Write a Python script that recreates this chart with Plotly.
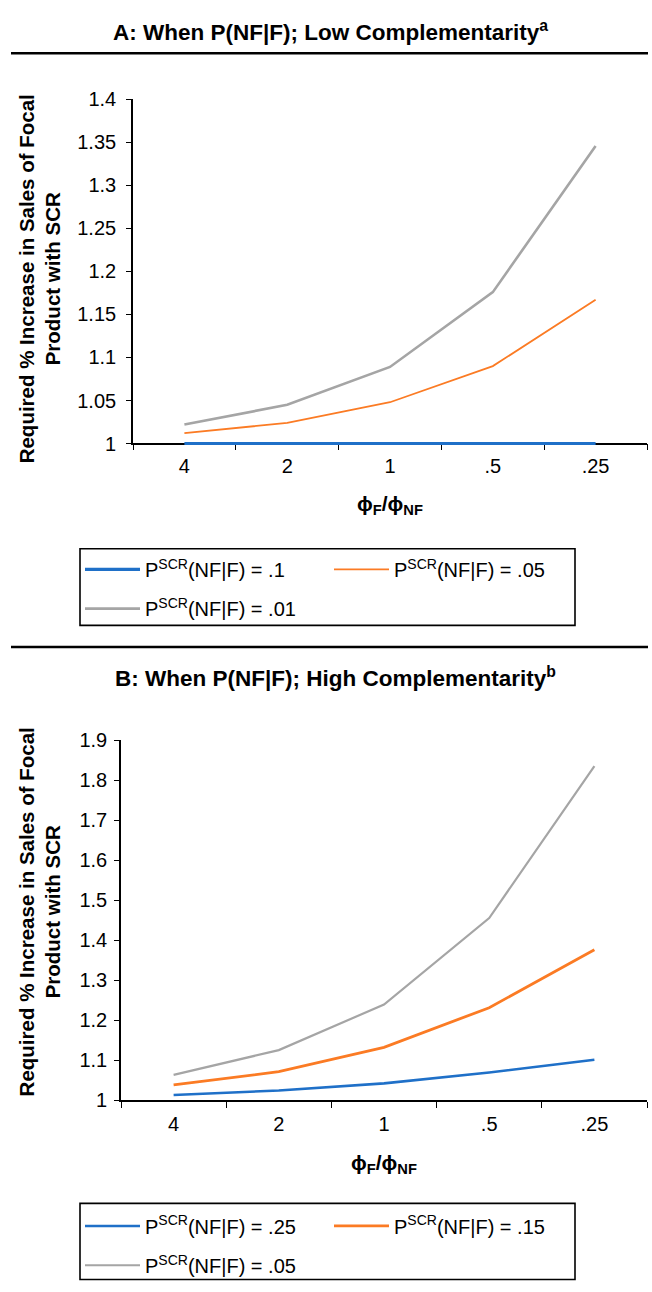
import plotly.graph_objects as go

# ---------------- data ----------------
categories = ["4", "2", "1", ".5", ".25"]

a_names = ["P<sup>SCR</sup>(NF|F) = .1", "P<sup>SCR</sup>(NF|F) = .05", "P<sup>SCR</sup>(NF|F) = .01"]
a_p10 = [1.0, 1.0, 1.0, 1.0, 1.0]
a_p05 = [1.012, 1.024, 1.048, 1.090, 1.167]
a_p01 = [1.022, 1.045, 1.089, 1.176, 1.346]

b_names = ["P<sup>SCR</sup>(NF|F) = .25", "P<sup>SCR</sup>(NF|F) = .15", "P<sup>SCR</sup>(NF|F) = .05"]
b_p25 = [1.013, 1.024, 1.042, 1.069, 1.101]
b_p15 = [1.038, 1.071, 1.132, 1.231, 1.376]
b_p05 = [1.063, 1.125, 1.239, 1.455, 1.835]

a_yticks = [1, 1.05, 1.1, 1.15, 1.2, 1.25, 1.3, 1.35, 1.4]
a_yticktext = ["1", "1.05", "1.1", "1.15", "1.2", "1.25", "1.3", "1.35", "1.4"]
b_yticks = [1, 1.1, 1.2, 1.3, 1.4, 1.5, 1.6, 1.7, 1.8, 1.9]
b_yticktext = ["1", "1.1", "1.2", "1.3", "1.4", "1.5", "1.6", "1.7", "1.8", "1.9"]

# ---------------- style ----------------
W, H = 652, 1292
FONT = "Liberation Sans, Arial, Helvetica, sans-serif"
BLUE = "#1F70C8"
ORANGE = "#FB7B24"
GRAY = "#A5A5A5"
TICK = 20
LEG = 20

def px(x):
    return x / W

def py(y):
    return 1 - y / H

fig = go.Figure()

# Panel A traces (row 1 of legend: first two, row 2: third)
for name, vals, col, wid, lg in [(a_names[0], a_p10, BLUE, 3.2, "legend"),
                                 (a_names[1], a_p05, ORANGE, 1.8, "legend"),
                                 (a_names[2], a_p01, GRAY, 2.6, "legend3")]:
    fig.add_trace(go.Scatter(x=categories, y=vals, mode="lines", name=name,
                             line=dict(color=col, width=wid), cliponaxis=False,
                             xaxis="x", yaxis="y", legend=lg))

# Panel B traces
for name, vals, col, wid, lg in [(b_names[0], b_p25, BLUE, 2.6, "legend2"),
                                 (b_names[1], b_p15, ORANGE, 2.8, "legend2"),
                                 (b_names[2], b_p05, GRAY, 2.2, "legend4")]:
    fig.add_trace(go.Scatter(x=categories, y=vals, mode="lines", name=name,
                             line=dict(color=col, width=wid), cliponaxis=False,
                             xaxis="x2", yaxis="y2", legend=lg))

xcommon = dict(type="category", range=[-0.5, 4.5], showline=True, linecolor="black",
               linewidth=1.6, ticks="outside", ticklen=6, tickwidth=1.4, tickcolor="black",
               tickson="boundaries", showgrid=False, zeroline=False,
               tickfont=dict(size=TICK, color="black", family=FONT),
               ticklabelstandoff=5, layer="below traces")
ycommon = dict(showline=True, linecolor="black", linewidth=1.6, ticks="outside",
               ticklen=5, tickwidth=1.4, tickcolor="black", showgrid=False, zeroline=False,
               tickfont=dict(size=TICK, color="black", family=FONT), layer="below traces")

def legend_row(yc):
    return dict(orientation="h", x=px(80), y=py(yc), xanchor="left", yanchor="middle",
                borderwidth=0, bgcolor="rgba(0,0,0,0)",
                itemwidth=55, entrywidth=179, entrywidthmode="pixels",
                font=dict(size=LEG, color="black", family=FONT))

fig.update_layout(
    width=W, height=H, autosize=False,
    margin=dict(l=0, r=0, t=0, b=0),
    paper_bgcolor="white", plot_bgcolor="white",
    font=dict(family=FONT, color="black"),
    xaxis=dict(domain=[px(133), px(647)], anchor="free", position=py(440), **xcommon),
    yaxis=dict(domain=[py(441.75), py(90)], anchor="x", range=[0.998, 1.4],
               tickvals=a_yticks, ticktext=a_yticktext, ticklabelstandoff=6, **ycommon),
    xaxis2=dict(domain=[px(121), px(647)], anchor="y2", **xcommon),
    yaxis2=dict(domain=[py(1108), py(741.7)], anchor="x2", range=[1, 1.9],
                tickvals=b_yticks, ticktext=b_yticktext, ticklabelstandoff=3, **ycommon),
    legend=legend_row(568),
    legend3=legend_row(608),
    legend2=legend_row(1236),
    legend4=legend_row(1276),
    showlegend=True,
)

# Rules
for yy in [43, 647]:
    fig.add_shape(type="line", xref="paper", yref="paper", x0=px(11), x1=px(648),
                  y0=py(yy), y1=py(yy), line=dict(color="black", width=2.5))
# Legend boxes
for top, bot in [(547, 625), (1213, 1290.5)]:
    fig.add_shape(type="rect", xref="paper", yref="paper", x0=px(80), x1=px(575),
                  y0=py(bot), y1=py(top), line=dict(color="black", width=1.6),
                  fillcolor="rgba(0,0,0,0)", layer="below")

ann = []
ann.append(dict(text="<b>A: When P(NF|F); Low Complementarity<sup>a</sup></b>",
                x=px(331), y=py(20), font=dict(size=22.5)))
ann.append(dict(text="<b>B: When P(NF|F); High Complementarity<sup>b</sup></b>",
                x=px(335), y=py(678), font=dict(size=22.5)))
ytitle = "<b>Required % Increase in Sales of Focal<br>Product with SCR</b>"
ann.append(dict(text=ytitle, x=px(40), y=py(273), textangle=-90, font=dict(size=20.5)))
ann.append(dict(text=ytitle, x=px(40), y=py(917), textangle=-90, font=dict(size=20.5)))
xtitle = "<b>ϕ<sub>F</sub>/ϕ<sub>NF</sub></b>"
ann.append(dict(text=xtitle, x=px(390), y=py(503), font=dict(size=21)))
ann.append(dict(text=xtitle, x=px(384), y=py(1173), font=dict(size=21)))
for a in ann:
    a.update(xref="paper", yref="paper", showarrow=False, xanchor="center", yanchor="middle")
    a["font"].update(family=FONT, color="black")
    fig.add_annotation(**a)

fig.write_html("out.html", config={"displayModeBar": False},
               post_script="document.body.style.margin='0px';")
